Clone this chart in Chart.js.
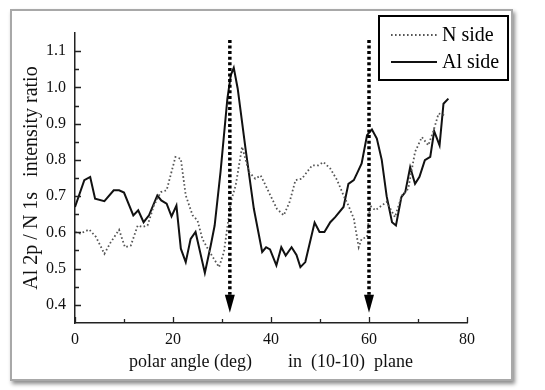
<!DOCTYPE html>
<html><head><meta charset="utf-8">
<script src="https://cdn.jsdelivr.net/npm/chart.js@4.4.1/dist/chart.umd.min.js"></script>
<style>
html,body{margin:0;padding:0;background:#fff;width:545px;height:390px;overflow:hidden}
#frame{position:absolute;left:10px;top:9px;width:499px;height:368px;border:2px solid #a8a8a8;box-shadow:2px 3px 4px rgba(0,0,0,0.45);background:#fff}
#wrap{position:absolute;left:0;top:0;width:545px;height:390px}
</style></head><body>
<div id="frame"></div>
<div id="wrap"><canvas id="c" width="545" height="390"></canvas></div>
<script>
const xTicks = [0, 20, 40, 60, 80];
const xMinorTicks = [10, 30, 50, 70];
const yTicks = [0.4, 0.5, 0.6, 0.7, 0.8, 0.9, 1.0, 1.1];
const yMinorTicks = [0.45, 0.55, 0.65, 0.75, 0.85, 0.95, 1.05];

const seriesLabels = ["N side", "Al side"];

const alSideX = [0, 1.9, 3.1, 4.1, 6.0, 7.9, 9.0, 10.0, 11.9, 12.9, 14.0, 15.1, 16.8, 17.6, 18.7, 19.7, 20.7, 21.6, 22.6, 23.6, 24.6, 26.5, 27.7, 28.5, 29.7, 31.1, 31.8, 32.4, 33.2, 34.8, 36.5, 38.2, 39.0, 39.8, 41.1, 42.1, 43.0, 44.2, 45.2, 46.0, 47.0, 48.9, 49.9, 50.9, 52.1, 53.1, 54.8, 55.8, 56.9, 57.7, 58.5, 59.6, 60.6, 61.6, 62.6, 63.6, 64.7, 65.5, 66.6, 67.4, 68.4, 69.4, 70.3, 71.4, 72.5, 73.3, 74.4, 75.2, 76.2];
const alSideY = [0.67, 0.744, 0.753, 0.693, 0.686, 0.716, 0.716, 0.71, 0.647, 0.661, 0.628, 0.647, 0.702, 0.688, 0.679, 0.644, 0.674, 0.555, 0.518, 0.582, 0.601, 0.488, 0.564, 0.619, 0.767, 0.969, 1.034, 1.054, 0.997, 0.831, 0.665, 0.546, 0.559, 0.553, 0.509, 0.559, 0.536, 0.559, 0.538, 0.504, 0.518, 0.627, 0.601, 0.601, 0.628, 0.642, 0.67, 0.734, 0.744, 0.767, 0.79, 0.868, 0.884, 0.859, 0.80, 0.70, 0.628, 0.619, 0.697, 0.711, 0.78, 0.734, 0.753, 0.799, 0.808, 0.879, 0.84, 0.955, 0.969];

const nSideX = [0, 1.1, 2.9, 4.3, 6.0, 7.3, 9.0, 10.2, 11.4, 12.8, 13.8, 14.8, 16.1, 17.5, 18.7, 20.5, 21.6, 22.6, 24.0, 25.0, 26.0, 27.3, 29.4, 30.4, 31.8, 32.8, 34.1, 35.5, 36.8, 37.9, 39.2, 41.2, 42.6, 43.8, 45.0, 46.3, 48.4, 49.7, 50.7, 52.1, 53.5, 54.8, 55.8, 56.9, 57.9, 58.5, 59.6, 60.2, 61.3, 62.6, 63.6, 65.3, 66.7, 68.0, 69.4, 70.8, 72.1, 73.2, 74.2, 75.5];
const nSideY = [0.601, 0.597, 0.608, 0.587, 0.541, 0.573, 0.607, 0.559, 0.564, 0.619, 0.615, 0.619, 0.674, 0.711, 0.716, 0.808, 0.803, 0.702, 0.647, 0.633, 0.582, 0.55, 0.504, 0.546, 0.684, 0.73, 0.836, 0.767, 0.748, 0.757, 0.721, 0.665, 0.647, 0.684, 0.744, 0.748, 0.785, 0.785, 0.794, 0.776, 0.744, 0.702, 0.674, 0.638, 0.559, 0.582, 0.587, 0.674, 0.661, 0.674, 0.684, 0.642, 0.702, 0.72, 0.822, 0.863, 0.84, 0.882, 0.928, 0.923];

const arrowX = [31.6, 60];
const arrowTopY = 1.131;
const arrowTipY = 0.378;

const FONT = "'Liberation Serif', 'Times New Roman', serif";

function pts(xs, ys) { return xs.map((x, i) => ({ x: x, y: ys[i] })); }

const extras = {
  id: 'extras',
  afterDraw(chart) {
    const ctx = chart.ctx;
    const xs = chart.scales.x, ys = chart.scales.y;
    const ca = chart.chartArea;
    ctx.save();
    // inward ticks
    ctx.strokeStyle = '#222';
    ctx.lineWidth = 1.3;
    ctx.beginPath();
    xTicks.forEach(v => { const p = Math.round(xs.getPixelForValue(v)) + 0.5; ctx.moveTo(p, ca.bottom); ctx.lineTo(p, ca.bottom - 6); });
    xMinorTicks.forEach(v => { const p = Math.round(xs.getPixelForValue(v)) + 0.5; ctx.moveTo(p, ca.bottom); ctx.lineTo(p, ca.bottom - 4); });
    yTicks.forEach(v => { const p = Math.round(ys.getPixelForValue(v)) + 0.5; ctx.moveTo(ca.left, p); ctx.lineTo(ca.left + 6, p); });
    yMinorTicks.forEach(v => { const p = Math.round(ys.getPixelForValue(v)) + 0.5; ctx.moveTo(ca.left, p); ctx.lineTo(ca.left + 4, p); });
    ctx.stroke();
    // arrows
    arrowX.forEach(v => {
      const px = xs.getPixelForValue(v);
      const top = ys.getPixelForValue(arrowTopY);
      const tip = ys.getPixelForValue(arrowTipY);
      const headLen = 18, headHalf = 5;
      ctx.strokeStyle = '#000';
      ctx.lineWidth = 3.5;
      ctx.setLineDash([3, 2.6]);
      ctx.beginPath();
      ctx.moveTo(px, top);
      ctx.lineTo(px, tip - headLen);
      ctx.stroke();
      ctx.setLineDash([]);
      ctx.fillStyle = '#000';
      ctx.beginPath();
      ctx.moveTo(px - headHalf, tip - headLen);
      ctx.lineTo(px + headHalf, tip - headLen);
      ctx.lineTo(px, tip);
      ctx.closePath();
      ctx.fill();
    });
    // legend box
    const ds = chart.data.datasets;
    ctx.setLineDash([]);
    ctx.lineWidth = 2;
    ctx.strokeStyle = '#000';
    ctx.fillStyle = '#fff';
    ctx.fillRect(379, 16, 129, 64);
    ctx.strokeRect(379, 16, 129, 64);
    ctx.font = "20px " + FONT;
    ctx.textBaseline = 'middle';
    ctx.textAlign = 'left';
    const rows = [35, 62];
    ds.forEach((d, i) => {
      ctx.strokeStyle = d.borderColor;
      ctx.lineWidth = d.borderWidth;
      ctx.setLineDash(d.borderDash || []);
      ctx.beginPath();
      ctx.moveTo(391, rows[i]);
      ctx.lineTo(437, rows[i]);
      ctx.stroke();
      ctx.setLineDash([]);
      ctx.fillStyle = '#000';
      ctx.fillText(d.label, 442, rows[i] + 1);
    });
    ctx.restore();
  }
};

new Chart(document.getElementById('c'), {
  type: 'line',
  data: {
    datasets: [
      { label: seriesLabels[0], data: pts(nSideX, nSideY), borderColor: '#555', borderWidth: 1.8, borderDash: [1.6, 2.4], pointRadius: 0, tension: 0, fill: false },
      { label: seriesLabels[1], data: pts(alSideX, alSideY), borderColor: '#111', borderWidth: 2, pointRadius: 0, tension: 0, fill: false }
    ]
  },
  options: {
    responsive: false,
    animation: false,
    devicePixelRatio: 1,
    layout: { padding: { left: 14, top: 33, right: 78, bottom: 10 } },
    plugins: { legend: { display: false }, tooltip: { enabled: false } },
    scales: {
      x: {
        type: 'linear', min: 0, max: 80,
        afterBuildTicks: s => { s.ticks = xTicks.map(v => ({ value: v })); },
        afterFit: s => { s.height = 57; },
        grid: { display: false, drawTicks: false },
        border: { display: true, color: '#222', width: 1.5 },
        ticks: { padding: 7, color: '#111', font: { family: FONT, size: 16 }, maxRotation: 0 },
        title: { display: true, text: 'polar angle (deg)        in  (10-10)  plane', color: '#111', font: { family: FONT, size: 18 }, padding: { top: 0, bottom: 7 } }
      },
      y: {
        type: 'linear', min: 0.35, max: 1.15,
        afterBuildTicks: s => { s.ticks = yTicks.map(v => ({ value: v })); },
        afterFit: s => { s.width = 61; },
        grid: { display: false, drawTicks: false },
        border: { display: true, color: '#222', width: 1.5 },
        ticks: { padding: 9, color: '#111', font: { family: FONT, size: 16 }, callback: v => Number(v).toFixed(1) },
        title: { display: true, text: 'Al 2p / N 1s   intensity ratio', color: '#111', font: { family: FONT, size: 20 }, padding: { top: 6, bottom: 0 } }
      }
    }
  },
  plugins: [extras]
});
</script>
</body></html>
